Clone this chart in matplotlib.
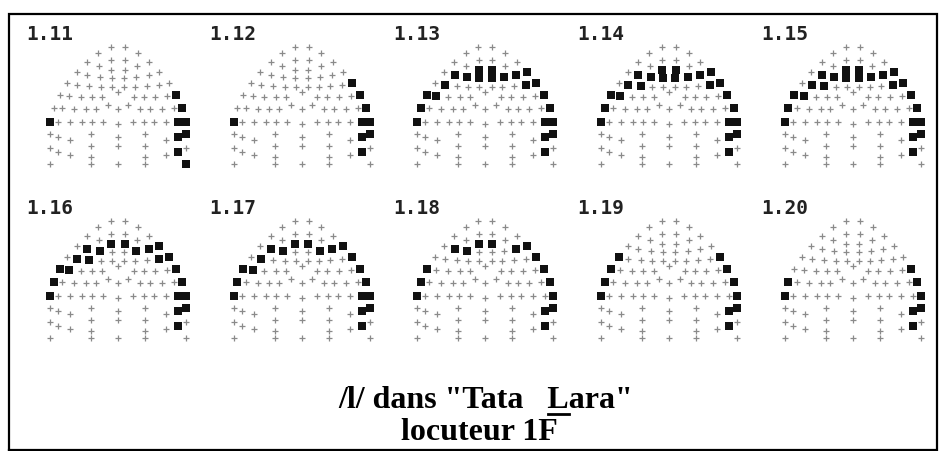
import numpy as np
import matplotlib
matplotlib.use("Agg")
import matplotlib.pyplot as plt

# ---------------- data ----------------
frame_labels = ["1.11", "1.12", "1.13", "1.14", "1.15",
                "1.16", "1.17", "1.18", "1.19", "1.20"]

# electrode rings of the artificial palate: half-width, depth, electrodes on arch, leg electrodes (x, y)
YC = 122
rings = [
    (68, 77, 16, [(68, 164), (68, 148), (68, 134)]),
    (60, 64, 14, [(60, 152), (60, 137)]),
    (48, 54, 12, [(48, 155), (48, 140)]),
    (36, 46, 10, []),
    (26, 38, 8, [(27, 164), (27, 157), (27, 146), (27, 134)]),
    (15, 30, 5, []),
]
mid_y = [109, 124, 137, 146, 164]

# contacted electrodes per frame: {ring: [electrode indices]}
contacts = {
    "1.11": {0: [3, 16, 17, 18, 19, 21], 1: [15, 16, 17]},
    "1.12": {0: [3, 15, 16, 17, 18, 19], 1: [15, 16, 17]},
    "1.13": {0: [3, 4, 5, 14, 15, 16, 17, 18, 19], 1: [4, 5, 6, 11, 12, 15, 16, 17],
             2: [6, 7, 8, 9], 3: [4, 5]},
    "1.14": {0: [3, 4, 5, 14, 15, 16, 17, 18, 19], 1: [4, 5, 6, 11, 12, 15, 16, 17],
             2: [5, 6, 7, 8, 9], 3: [4, 5]},
    "1.15": {0: [3, 4, 5, 14, 15, 16, 17, 18, 19], 1: [4, 5, 6, 11, 12, 15, 16, 17],
             2: [5, 6, 7, 8, 9], 3: [4, 5]},
    "1.16": {0: [3, 4, 5, 14, 15, 16, 17, 18, 19], 1: [4, 5, 6, 11, 12, 15, 16, 17],
             2: [5, 6, 7, 8, 9]},
    "1.17": {0: [3, 4, 5, 14, 15, 16, 17, 18, 19], 1: [4, 5, 6, 11, 15, 16, 17],
             2: [6, 7, 8, 9]},
    "1.18": {0: [3, 4, 5, 14, 15, 16, 17, 18, 19], 1: [6, 11, 16, 17],
             2: [6, 7, 8]},
    "1.19": {0: [3, 4, 5, 6, 15, 16, 17, 18, 19], 1: [16, 17]},
    "1.20": {0: [3, 4, 16, 17, 18, 19], 1: [16, 17]},
}

title_line1 = '/l/ dans "Tata   Lara"'
title_prefix = '/l/ dans "Tata   '
title_under = 'L'
title_line2 = 'locuteur 1F'

# ---------------- layout helpers ----------------
def arch(a, b, n, p=1.5):
    t = np.linspace(np.pi, 0, 4000)
    c, s = np.cos(t), np.sin(t)
    x = a * np.sign(c) * np.abs(c) ** (2 / p)
    y = YC - b * np.abs(s) ** (2 / p)
    L = np.concatenate([[0], np.cumsum(np.hypot(np.diff(x), np.diff(y)))])
    tt = np.linspace(0, L[-1], n)
    return np.interp(tt, L, x), np.interp(tt, L, y)

ring_pts = []
for a, b, n, legs in rings:
    xs, ys = arch(a, b, n)
    pts = [(-lx, ly) for lx, ly in legs] + list(zip(xs, ys)) + [(lx, ly) for lx, ly in legs[::-1]]
    ring_pts.append(pts)
all_pts = [p for pts in ring_pts for p in pts] + [(0, y) for y in mid_y]
all_pts = np.array(all_pts)

# ---------------- figure ----------------
W, H = 940, 451
fig = plt.figure(figsize=(W / 100, H / 100), dpi=100)
ax = fig.add_axes([0, 0, 1, 1])
ax.set_xlim(0, W)
ax.set_ylim(H, 0)
ax.axis("off")

col_mid0, col_step, row_step = 118, 183.7, 174
lab_x0 = 26

for idx, lab in enumerate(frame_labels):
    r, c = divmod(idx, 5)
    mx = col_mid0 + c * col_step
    oy = r * row_step
    ax.plot(all_pts[:, 0] + mx, all_pts[:, 1] + oy, linestyle="none", marker="+",
            color="#8a8a8a", ms=3.8, mew=0.9)
    cx, cy = [], []
    for ring, ids in contacts[lab].items():
        for i in ids:
            px, py = ring_pts[ring][i]
            cx.append(px + mx)
            cy.append(py + oy)
    ax.plot(cx, cy, linestyle="none", marker="s", color="#111111", ms=5.2, mew=0)
    ax.text(lab_x0 + c * col_step, 40 + oy, lab, family="DejaVu Sans Mono",
            fontweight="bold", fontsize=14, color="#222222", va="baseline", ha="left")

# frame
ax.plot([9, 9, 937, 937, 9], [450, 14, 14, 450, 450], color="black", lw=1.6,
        solid_joinstyle="miter")

# title
tkw = dict(family="Liberation Serif", fontweight="bold", fontsize=23, color="black")
t1 = ax.text(486, 408, title_line1, ha="center", va="baseline", **tkw)
ax.text(479, 440, title_line2, ha="center", va="baseline", **tkw)

fig.canvas.draw()
rend = fig.canvas.get_renderer()
bb = t1.get_window_extent(rend)
tmp = ax.text(0, 0, title_prefix, va="baseline", **tkw)
w_pre = tmp.get_window_extent(rend).width
tmp.remove()
tmp = ax.text(0, 0, title_under, va="baseline", **tkw)
w_L = tmp.get_window_extent(rend).width
tmp.remove()
x0 = bb.x0 + w_pre
ax.plot([x0, x0 + w_L], [414, 414], color="black", lw=2.0)

fig.savefig("out.png", dpi=100)
